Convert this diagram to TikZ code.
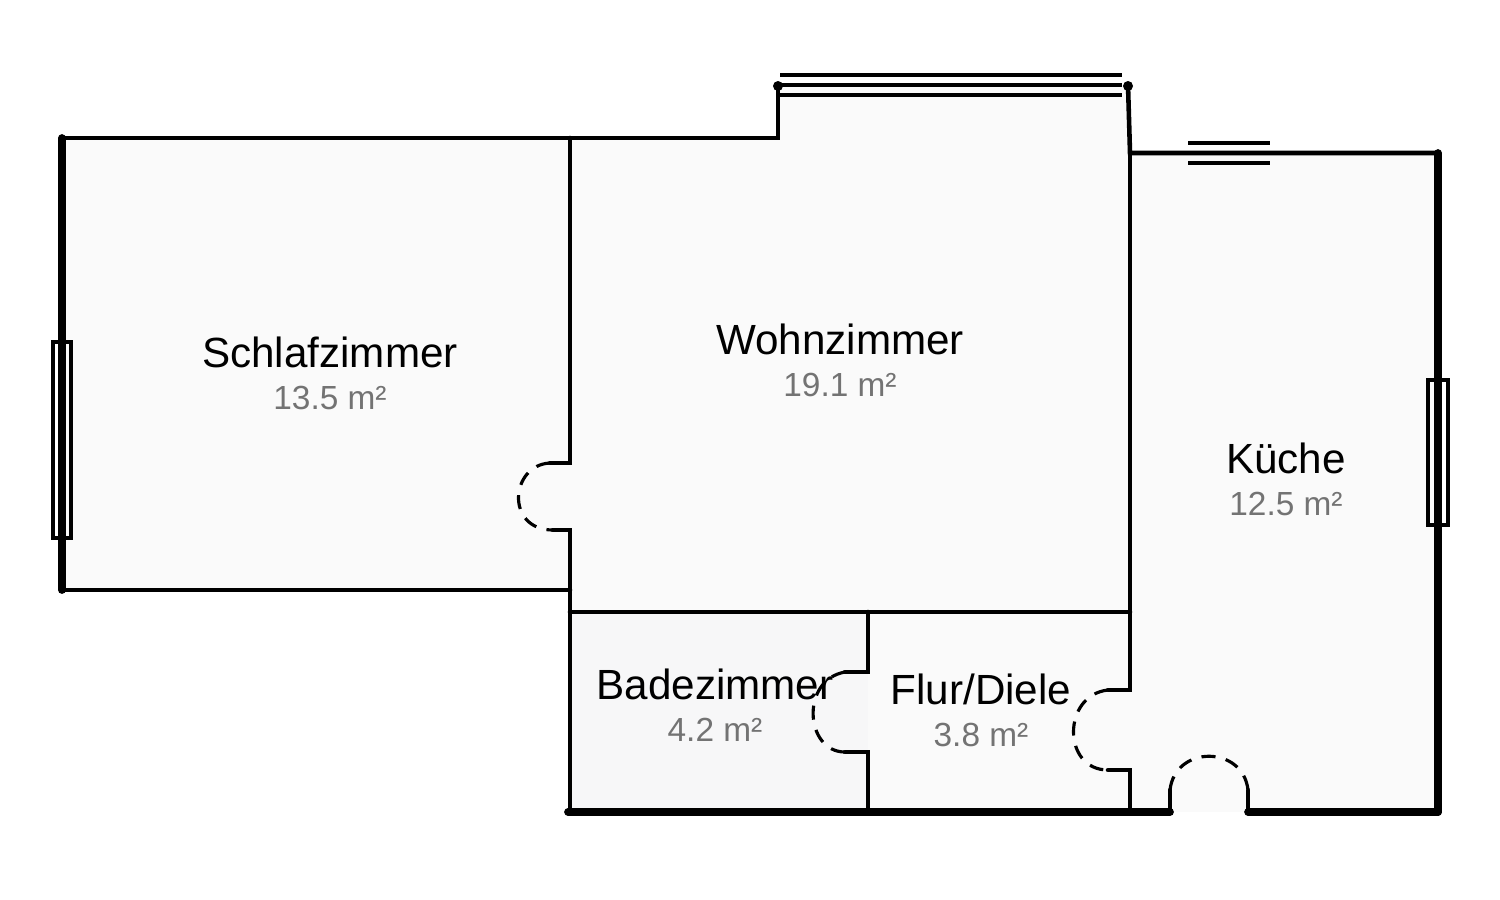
\documentclass[tikz,border=0pt]{standalone}
\usepackage{fontspec}
\setmainfont{Liberation Sans}
\begin{document}
\begin{tikzpicture}[x=0.01cm,y=-0.01cm,
  wall/.style={line width=1.3pt,line cap=round},
  thick wall/.style={line width=2.2pt,line cap=round},
  win/.style={line width=1.1pt},
  door/.style={line width=0.9pt,dashed,dash pattern=on 4pt off 3pt},
  room/.style={fill=black!2,draw=none},
  rname/.style={font=\fontsize{12}{14}\selectfont,text=black},
  area/.style={font=\fontsize{9.5}{12}\selectfont,text=black!55}]
\useasboundingbox (0,0) rectangle (1500,899);
% floors
\path[room] (62,138) rectangle (570,590);
\path[room] (570,138) -- (778,138) -- (778,85) -- (1128,85) -- (1130,612) -- (570,612) -- cycle;
\path[room] (1130,153) rectangle (1438,812);
\path[fill=blue!3!black!3] (570,612) rectangle (868,812);
\path[room] (868,612) rectangle (1130,812);
% walls
\draw[thick wall] (62,138) -- (62,590);
\draw[wall] (62,138) -- (778,138) -- (778,85);
\draw[wall] (1128,85) -- (1130,153) -- (1438,153);
\draw[thick wall] (1438,153) -- (1438,812);
\draw[wall] (62,590) -- (570,590);
\draw[wall] (570,138) -- (570,463) -- (550,463);
\draw[wall] (553,530) -- (570,530) -- (570,812);
\draw[thick wall] (568,812) -- (1170,812);
\draw[thick wall] (1248,812) -- (1438,812);
\draw[wall] (1130,153) -- (1130,690) -- (1108,690);
\draw[wall] (1108,770) -- (1130,770) -- (1130,812);
\draw[wall] (570,612) -- (1130,612);
\draw[wall] (868,612) -- (868,672) -- (845,672);
\draw[wall] (845,752) -- (868,752) -- (868,812);
\draw[wall] (1170,812) -- (1170,790);
\draw[wall] (1248,812) -- (1248,790);
% doors
\draw[door] (550,463) .. controls (510,465) and (505,530) .. (553,530);
\draw[door] (845,672) .. controls (800,680) and (805,752) .. (845,752);
\draw[door] (1108,690) .. controls (1062,695) and (1062,770) .. (1108,770);
\draw[door] (1170,790) .. controls (1175,745) and (1243,745) .. (1248,790);
% windows
\foreach \y in {75,85,95} \draw[win] (780,\y) -- (1122,\y);
\fill (778,86) circle (5); \fill (1128,86) circle (5);
\foreach \y in {143,153,163} \draw[win] (1188,\y) -- (1270,\y);
\draw[win] (53,342) rectangle (71,538);
\draw[win] (62,342) -- (62,538);
\draw[win] (1428,380) rectangle (1448,525);
\draw[win] (1438,380) -- (1438,525);
% labels
\node[rname] (s) at (330,352) {Schlafzimmer};
\node[area] (sa) at (330,398) {13.5 m²};
\node[rname] (w) at (840,339) {Wohnzimmer};
\node[area] (wa) at (840,385) {19.1 m²};
\node[rname] (k) at (1286,458) {Küche};
\node[area] (ka) at (1286,504) {12.5 m²};
\node[rname] (b) at (715,684) {Badezimmer};
\node[area] (ba) at (715,730) {4.2 m²};
\node[rname] (f) at (981,689) {Flur/Diele};
\node[area] (fa) at (981,735) {3.8 m²};
\end{tikzpicture}
\end{document}
